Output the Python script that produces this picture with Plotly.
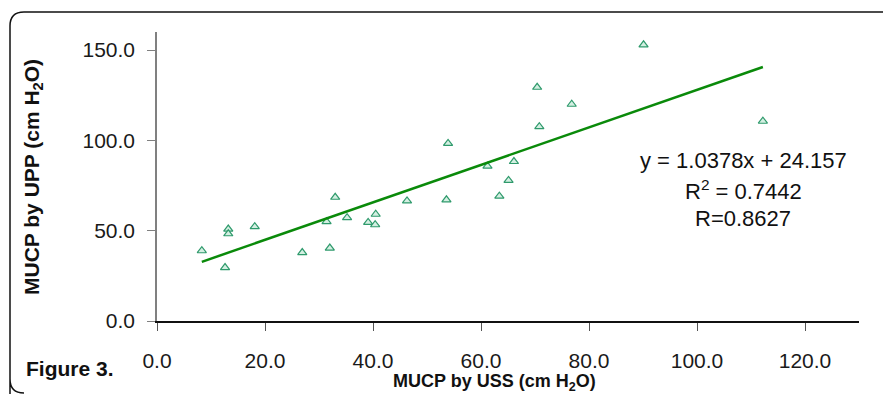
import plotly.graph_objects as go

# Data
uss = [8.3, 12.6, 13.2, 13.2, 18.1, 26.9, 31.4, 32.0, 33.0, 35.2, 39.1, 40.4, 40.5,
       46.3, 53.6, 53.9, 61.2, 63.4, 65.1, 66.1, 70.4, 70.8, 76.8, 90.1, 112.2]
upp = [38.9, 29.6, 50.9, 48.3, 52.2, 37.9, 55.0, 40.4, 68.5, 57.2, 54.6, 53.3, 59.1,
       66.5, 67.1, 98.3, 85.7, 69.1, 77.8, 88.3, 129.4, 107.6, 120.0, 152.9, 110.6]
slope = 1.0378
intercept = 24.157
eq_lines = ["y = 1.0378x + 24.157", "R<sup>2</sup> = 0.7442", "R=0.8627"]
x_ticks = [0, 20, 40, 60, 80, 100, 120]
x_tick_labels = ["0.0", "20.0", "40.0", "60.0", "80.0", "100.0", "120.0"]
y_ticks = [0, 50, 100, 150]
y_tick_labels = ["0.0", "50.0", "100.0", "150.0"]

W, H = 883, 394
L, R, T, B = 157, 859, 32, 321  # plot area in pixels
pw, ph = R - L, B - T


def px(x):
    return (x - L) / pw


def py(y):
    return (B - y) / ph


FONT = "Arial, Liberation Sans, sans-serif"

fig = go.Figure()
fig.add_trace(go.Scatter(
    x=uss, y=upp, mode="markers",
    marker=dict(symbol="triangle-up", size=8, color="#d4efe2",
                line=dict(color="#2f9a6c", width=1.2)),
    showlegend=False, cliponaxis=False))

xmin, xmax = min(uss), max(uss)
fig.add_trace(go.Scatter(
    x=[xmin, xmax], y=[slope * xmin + intercept, slope * xmax + intercept],
    mode="lines", line=dict(color="#0a8a0a", width=2.5), showlegend=False))

fig.update_layout(
    width=W, height=H, autosize=False,
    margin=dict(l=L, r=W - R, t=T, b=H - B, pad=0, autoexpand=False),
    paper_bgcolor="white", plot_bgcolor="white",
    font=dict(family=FONT, color="#1a1a1a", size=21),
    xaxis=dict(range=[0, 130], tickvals=x_ticks, ticktext=x_tick_labels,
               showgrid=False, zeroline=False, showline=True, linecolor="#111111",
               linewidth=1.5, ticks="outside", ticklen=8, tickcolor="#555555",
               tickwidth=1.3, tickfont=dict(size=21, color="#1a1a1a"),
               ticklabelstandoff=12, fixedrange=True, automargin=False),
    yaxis=dict(range=[0, 160], tickvals=y_ticks, ticktext=y_tick_labels,
               showgrid=False, zeroline=False, showline=True, linecolor="#808080",
               linewidth=1.5, ticks="outside", ticklen=8, tickcolor="#808080",
               tickwidth=1.3, tickfont=dict(size=21, color="#1a1a1a"),
               ticklabelstandoff=8, fixedrange=True, automargin=False),
)

# Rounded frame around the figure
x0, x1 = px(10), px(895)
y0, y1 = py(12), py(393)
rx, ry = 14 / pw, 14 / ph
path = (f"M {x0} {py(420)} L {x0} {y1 + ry} Q {x0} {y1} {x0 + rx} {y1} "
        f"M {x0} {y1 + ry} L {x0} {y0 - ry} Q {x0} {y0} {x0 + rx} {y0} L {x1} {y0}")
fig.add_shape(type="path", path=path, xref="paper", yref="paper",
              line=dict(color="#111111", width=1.5), layer="below")

# Equation text
for txt, yc in zip(eq_lines, [160, 190, 219]):
    fig.add_annotation(text=txt, x=px(743), y=py(yc), xref="paper", yref="paper",
                       showarrow=False, xanchor="center", yanchor="middle",
                       font=dict(size=22, color="#111111", family=FONT))

# Axis titles
fig.add_annotation(text="<b>MUCP by USS (cm H<sub>2</sub>O)</b>", x=px(494), y=py(382),
                   xref="paper", yref="paper", showarrow=False,
                   xanchor="center", yanchor="middle",
                   font=dict(size=18, color="#111111", family=FONT))
fig.add_annotation(text="<b>MUCP by UPP (cm H<sub>2</sub>O)</b>", x=px(33), y=py(177),
                   xref="paper", yref="paper", showarrow=False, textangle=-90,
                   xanchor="center", yanchor="middle",
                   font=dict(size=21, color="#111111", family=FONT))
fig.add_annotation(text="<b>Figure 3.</b>", x=px(24), y=py(369),
                   xref="paper", yref="paper", showarrow=False,
                   xanchor="left", yanchor="middle",
                   font=dict(size=21, color="#111111", family=FONT))

fig.write_html("out.html", config={"displayModeBar": False},
               post_script="document.body.style.margin='0';document.body.style.overflow='hidden';")
